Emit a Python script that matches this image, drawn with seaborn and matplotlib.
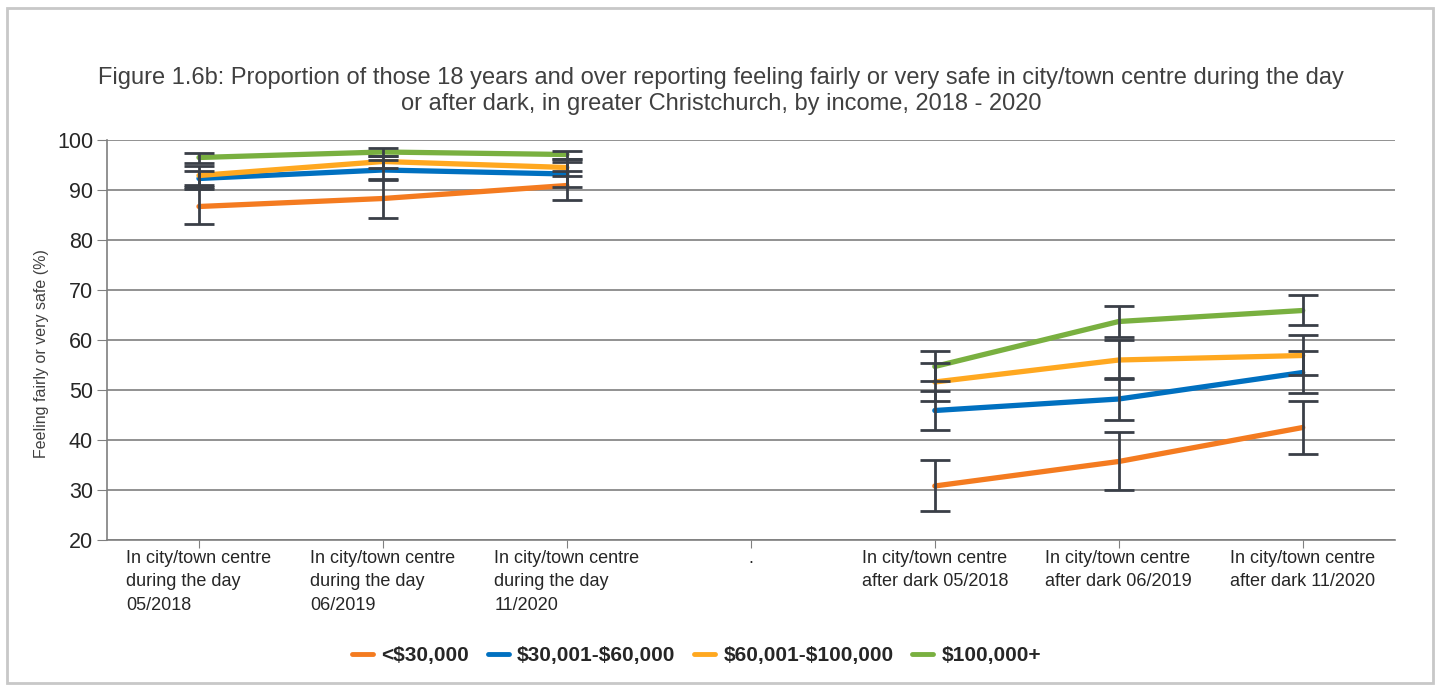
import pandas as pd
import numpy as np
import matplotlib.pyplot as plt
import matplotlib.patches as patches
import seaborn as sns

categories = ["In city/town centre\nduring the day\n05/2018",
              "In city/town centre\nduring the day\n06/2019",
              "In city/town centre\nduring the day\n11/2020",
              ".",
              "In city/town centre\nafter dark 05/2018",
              "In city/town centre\nafter dark 06/2019",
              "In city/town centre\nafter dark 11/2020"]
period = ["day", "day", "day", None, "dark", "dark", "dark"]

income = ["<$30,000", "$30,001-$60,000", "$60,001-$100,000", "$100,000+"]
under_30k = [86.7, 88.3, 90.9, None, 30.8, 35.7, 42.5]
from_30k_60k = [92.3, 94.0, 93.2, None, 45.9, 48.2, 53.5]
from_60k_100k = [92.9, 95.7, 94.5, None, 51.6, 56.0, 56.9]
over_100k = [96.5, 97.6, 97.1, None, 54.7, 63.7, 65.9]

err_under_30k = [3.6, 4.0, 3.0, None, 5.1, 5.8, 5.3]
err_30k_60k = [1.6, 2.0, 2.5, None, 3.9, 4.2, 4.2]
err_60k_100k = [1.9, 1.2, 1.7, None, 3.8, 3.9, 4.0]
err_100k = [1.0, 0.8, 0.8, None, 3.0, 3.1, 3.0]

colors = ["#F47B20", "#0070C0", "#FFA820", "#79B040"]

rows = []
series = [under_30k, from_30k_60k, from_60k_100k, over_100k]
errs = [err_under_30k, err_30k_60k, err_60k_100k, err_100k]
for name, vals, ee in zip(income, series, errs):
    for i, (v, e) in enumerate(zip(vals, ee)):
        if v is None:
            continue
        rows.append({"pos": i, "value": v, "err": e, "income": name, "period": period[i]})
df = pd.DataFrame(rows)

sns.set_style("white")
plt.rcParams['font.family'] = ['Liberation Sans', 'DejaVu Sans']
plt.rcParams['text.parse_math'] = False

fig = plt.figure(figsize=(14.42, 6.9), dpi=100)
ax = fig.add_axes([0.0742, 0.2174, 0.893, 0.5797])

sns.lineplot(data=df, x="pos", y="value", hue="income", units="period", estimator=None,
             palette=colors, hue_order=income, linewidth=3.8, ax=ax)

# error bars on top of the lines, caps a bit lighter than the stems
for name in income:
    d = df[df["income"] == name]
    _, caps, _ = ax.errorbar(d["pos"], d["value"], yerr=d["err"], fmt="none", ecolor="#3a3f47",
                             elinewidth=2, capsize=11, capthick=2, zorder=5)
    for c in caps:
        c.set_color("#6f7379")

ax.set_xlim(-0.5, len(categories) - 0.5)
ax.set_ylim(20, 100)
ax.set_yticks(range(20, 101, 10))
ax.set_xticks(range(len(categories)))
ax.set_xticklabels(categories, ha="center", multialignment="left", fontsize=13,
                   color="#262626", linespacing=1.5)
ax.tick_params(axis="y", labelsize=15.5, colors="#262626", length=7, color="#808080",
               left=True, pad=3)
ax.tick_params(axis="x", length=6, color="#808080", bottom=True, pad=1)
ax.grid(axis="y", color="#7f7f7f", linewidth=1.2)
ax.set_axisbelow(True)
for s in ["top", "right"]:
    ax.spines[s].set_visible(False)
for s in ["left", "bottom"]:
    ax.spines[s].set_color("#7f7f7f")
    ax.spines[s].set_linewidth(1.2)

ax.set_xlabel("")
ax.set_ylabel("Feeling fairly or very safe (%)", fontsize=11.5, color="#404040")
ax.yaxis.set_label_coords(-0.045, 0.465)

handles, labels = ax.get_legend_handles_labels()
ax.get_legend().remove()
leg = fig.legend(handles, labels, loc="center", bbox_to_anchor=(0.483, 0.05), ncol=4,
                 frameon=False, handlelength=1.0, handletextpad=0.4, columnspacing=0.9,
                 prop={"weight": "bold", "size": 15})
for line in leg.get_lines():
    line.set_linewidth(3.5)
for t in leg.get_texts():
    t.set_color("#262626")

fig.text(0.5, 0.868, "Figure 1.6b: Proportion of those 18 years and over reporting feeling fairly or very safe in city/town centre during the day\nor after dark, in greater Christchurch, by income, 2018 - 2020",
         ha="center", va="center", fontsize=17, color="#404040", linespacing=1.2)

fig.patches.append(patches.Rectangle((0.005, 0.01), 0.989, 0.979, transform=fig.transFigure,
                                     fill=False, edgecolor="#c8c8c8", linewidth=2))

plt.savefig("out.png", dpi=100)
